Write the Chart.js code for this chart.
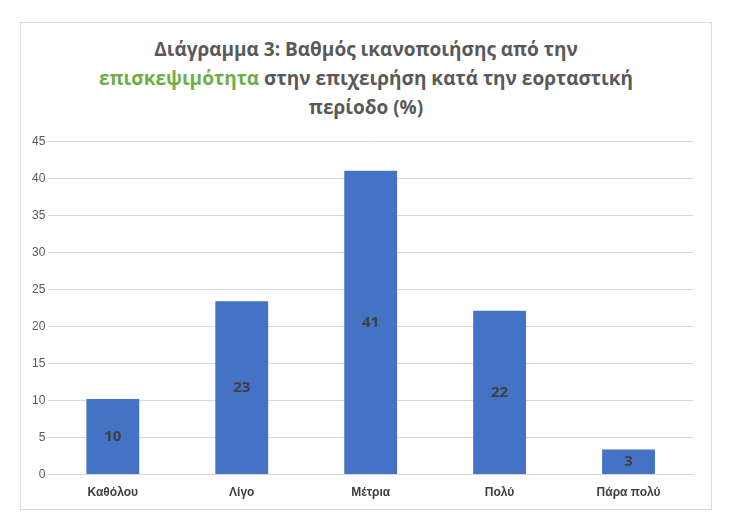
<!DOCTYPE html>
<html><head><meta charset="utf-8">
<script src="https://cdn.jsdelivr.net/npm/chart.js@4"></script>
<style>
body{margin:0;background:#fff;font-family:"Open Sans",sans-serif;}
#box{position:absolute;left:20px;top:22px;width:690px;height:486px;border:1px solid #d9d9d9;}
#title{position:absolute;left:0;top:12px;width:690px;text-align:center;font:bold 19px "Open Sans",sans-serif;color:#595959;line-height:29px;}
#wrap{position:absolute;left:0;top:108px;width:690px;height:378px;}
</style></head><body>
<div id="box">
<div id="title">Διάγραμμα 3: Βαθμός ικανοποιήσης από την<br><span style="color:#70AD47">επισκεψιμότητα</span> στην επιχειρήση κατά την εορταστική<br>περίοδο (%)</div>
<div id="wrap"><canvas id="c"></canvas></div>
</div>
<script>
const categories=["Καθόλου","Λίγο","Μέτρια","Πολύ","Πάρα πολύ"];
const values=[10.2,23.4,41,22.1,3.4];
const labels=["10","23","41","22","3"];
const lbl={id:'lbl',afterDatasetsDraw(ch){const c=ch.ctx;c.save();c.font='bold 15px "Open Sans",sans-serif';c.fillStyle='#404040';c.textAlign='center';c.textBaseline='middle';
ch.getDatasetMeta(0).data.forEach((b,i)=>{c.fillText(labels[i],b.x,(b.y+b.base)/2);});c.restore();}};
new Chart(document.getElementById('c'),{type:'bar',
data:{labels:categories,datasets:[{data:values,backgroundColor:'#4472C4',categoryPercentage:1,barPercentage:0.41}]},
options:{responsive:true,maintainAspectRatio:false,animation:false,
layout:{padding:{left:8,right:18,top:6,bottom:6}},
plugins:{legend:{display:false},tooltip:{enabled:false}},
scales:{y:{min:0,max:45,ticks:{stepSize:5,color:'#595959',font:{size:12}},grid:{color:'#d9d9d9',drawTicks:false},border:{display:false}},
x:{ticks:{color:'#404040',font:{size:12,weight:'bold'}},grid:{display:false},border:{color:'#d9d9d9'}}}},
plugins:[lbl]});
</script></body></html>
